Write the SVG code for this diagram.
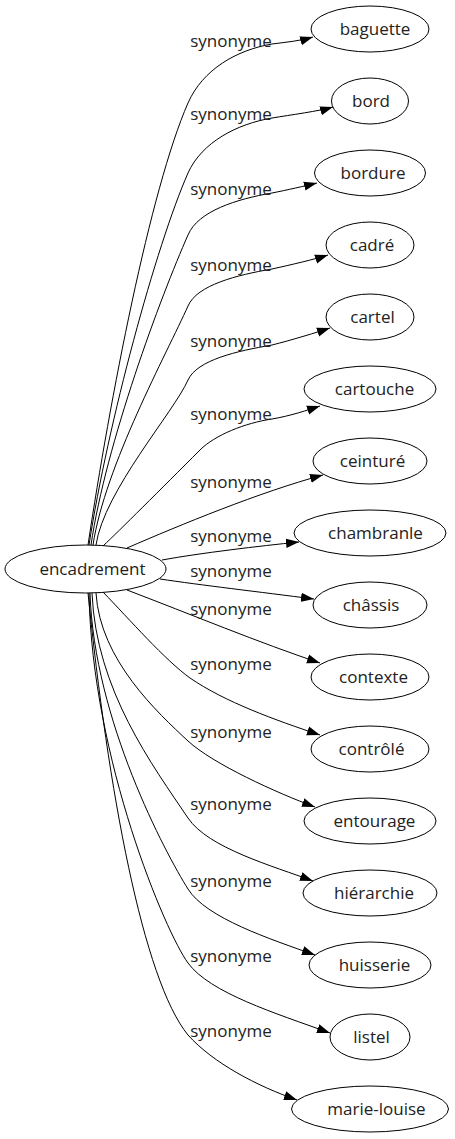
<svg xmlns="http://www.w3.org/2000/svg" width="455" height="1139" viewBox="0 0 455 1139">
<defs>
<marker id="arrow" markerUnits="userSpaceOnUse" markerWidth="14" markerHeight="10" viewBox="0 0 14 10" refX="13" refY="5" orient="auto">
<path d="M0,0.4 L13,5 L0,9.6 z" fill="#000"/>
</marker>
<style>
.node ellipse{fill:#fff;stroke:#000;stroke-width:1}
text{font-family:"Open Sans","DejaVu Sans",sans-serif;font-size:17px;fill:#222;text-anchor:middle}
.edge path{fill:none;stroke:#000;stroke-width:1;marker-end:url(#arrow)}
</style>
</defs>
<rect width="455" height="1139" fill="#fff"/>
<g id="nodes">
<g id="n0" class="node"><ellipse cx="85.5" cy="569" rx="80.5" ry="24"/><text x="92.5" y="574.5">encadrement</text></g>
<g id="n1" class="node"><ellipse cx="370" cy="29" rx="59" ry="23"/><text x="375" y="34.5">baguette</text></g>
<g id="n2" class="node"><ellipse cx="370" cy="101" rx="38.5" ry="23"/><text x="371" y="106.5">bord</text></g>
<g id="n3" class="node"><ellipse cx="370" cy="173" rx="55.5" ry="23"/><text x="373" y="178.5">bordure</text></g>
<g id="n4" class="node"><ellipse cx="370" cy="245" rx="44" ry="23"/><text x="372" y="250.5">cadré</text></g>
<g id="n5" class="node"><ellipse cx="370" cy="317" rx="44" ry="23"/><text x="372.5" y="322.5">cartel</text></g>
<g id="n6" class="node"><ellipse cx="370" cy="389" rx="66" ry="23"/><text x="374.5" y="394.5">cartouche</text></g>
<g id="n7" class="node"><ellipse cx="370" cy="461" rx="57" ry="23"/><text x="372.5" y="466.5">ceinturé</text></g>
<g id="n8" class="node"><ellipse cx="370" cy="533" rx="76" ry="23"/><text x="375.5" y="538.5">chambranle</text></g>
<g id="n9" class="node"><ellipse cx="370" cy="605" rx="57" ry="23"/><text x="371" y="610.5">châssis</text></g>
<g id="n10" class="node"><ellipse cx="370" cy="677" rx="59" ry="23"/><text x="373.5" y="682.5">contexte</text></g>
<g id="n11" class="node"><ellipse cx="370" cy="749" rx="59" ry="23"/><text x="371.5" y="754.5">contrôlé</text></g>
<g id="n12" class="node"><ellipse cx="370" cy="821" rx="66" ry="23"/><text x="374.5" y="826.5">entourage</text></g>
<g id="n13" class="node"><ellipse cx="370" cy="893" rx="67" ry="23"/><text x="374" y="898.5">hiérarchie</text></g>
<g id="n14" class="node"><ellipse cx="370" cy="965" rx="61" ry="23"/><text x="374.5" y="970.5">huisserie</text></g>
<g id="n15" class="node"><ellipse cx="370" cy="1037" rx="40" ry="23"/><text x="371.5" y="1042.5">listel</text></g>
<g id="n16" class="node"><ellipse cx="370" cy="1109" rx="78.5" ry="23"/><text x="376.5" y="1114.5">marie-louise</text></g>
</g>
<g id="edges">
<g id="e1" class="edge"><path d="M88,545 C110,399 150,190 188,103 C203,69 237,50 272,44 C287,42 300,41 313,37"/><text x="231" y="47">synonyme</text></g>
<g id="e2" class="edge"><path d="M89,545 C108,422 156,246 188,173 C202,142 237,124 272,118 C290,115 320,111 333,107"/><text x="231" y="120">synonyme</text></g>
<g id="e3" class="edge"><path d="M91,545 C106,443 161,296 188,235 C198,211 237,199 272,193 C287,190 305,186 317,183"/><text x="231" y="195">synonyme</text></g>
<g id="e4" class="edge"><path d="M93,545 C105,466 167,353 188,306 C197,285 237,275 272,269 C290,265 316,259 328,255"/><text x="231" y="271">synonyme</text></g>
<g id="e5" class="edge"><path d="M96,545 C104,491 174,412 188,380 C197,360 237,351 272,345 C292,340 318,332 330,328"/><text x="231" y="347">synonyme</text></g>
<g id="e6" class="edge"><path d="M103,546 C120,530 160,490 200,450 C215,435 245,423 272,419 C290,416 308,410 320,406"/><text x="231" y="420">synonyme</text></g>
<g id="e7" class="edge"><path d="M127,548 C180,525 260,492 323,475"/><text x="231" y="488">synonyme</text></g>
<g id="e8" class="edge"><path d="M162,560 C200,553 260,546 299,542"/><text x="231" y="542">synonyme</text></g>
<g id="e9" class="edge"><path d="M160,579 C200,585 260,592 314,599"/><text x="231" y="577">synonyme</text></g>
<g id="e10" class="edge"><path d="M127,590 C190,614 260,643 320,663"/><text x="231" y="615">synonyme</text></g>
<g id="e11" class="edge"><path d="M103,592 C130,620 165,660 190,678 C225,702 275,720 320,735"/><text x="231" y="670">synonyme</text></g>
<g id="e12" class="edge"><path d="M96,593 C100,660 158,713 188,741 C213,764 277,793 315,807"/><text x="231" y="738">synonyme</text></g>
<g id="e13" class="edge"><path d="M92,593 C96,690 153,766 188,818 C208,848 273,866 313,881"/><text x="231" y="810">synonyme</text></g>
<g id="e14" class="edge"><path d="M90,593 C94,720 166,854 188,889 C206,918 270,939 315,955"/><text x="231" y="887">synonyme</text></g>
<g id="e15" class="edge"><path d="M89,593 C92,760 166,933 188,963 C210,993 275,1013 330,1033"/><text x="231" y="962">synonyme</text></g>
<g id="e16" class="edge"><path d="M88,593 C108,790 143,980 188,1035 C213,1063 257,1086 297,1100"/><text x="231" y="1037">synonyme</text></g>
</g>
</svg>
